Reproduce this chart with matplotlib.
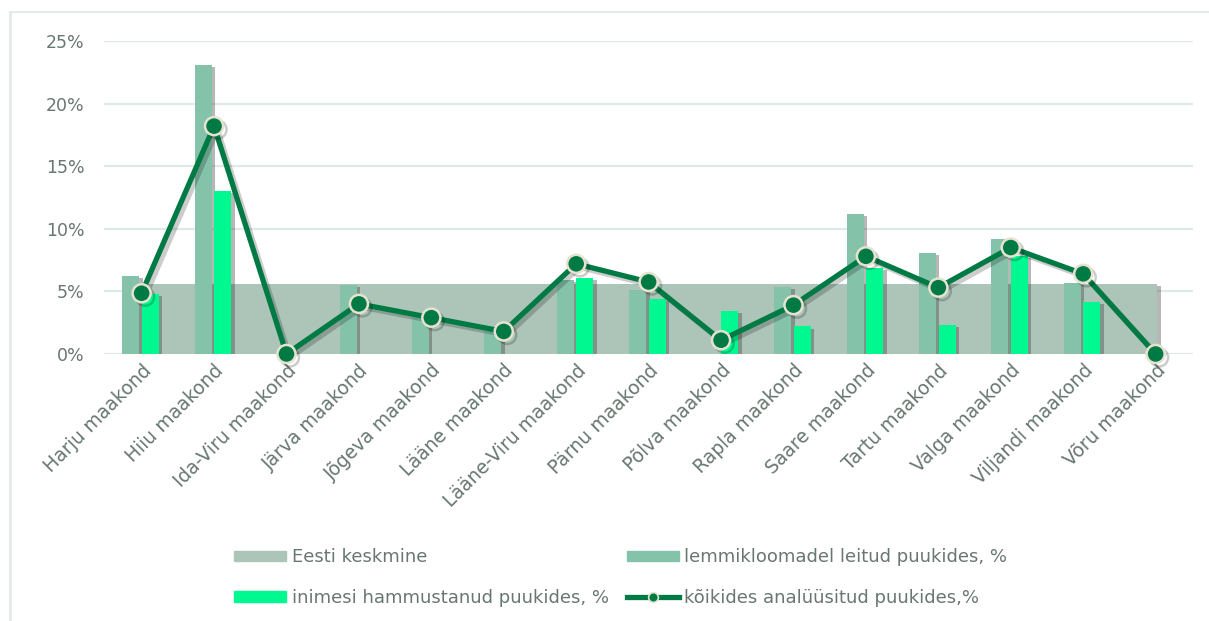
import matplotlib as mpl
mpl.use('Agg')
import matplotlib.pyplot as plt
import matplotlib.patheffects as pe
from matplotlib.lines import Line2D
import numpy as np

plt.rcParams['font.family'] = ['DejaVu Sans']

# Maakonnad ja puukide osakaalud (%)
maakonnad = ['Harju maakond', 'Hiiu maakond', 'Ida-Viru maakond', 'Järva maakond',
             'Jõgeva maakond', 'Lääne maakond', 'Lääne-Viru maakond', 'Pärnu maakond',
             'Põlva maakond', 'Rapla maakond', 'Saare maakond', 'Tartu maakond',
             'Valga maakond', 'Viljandi maakond', 'Võru maakond']
eesti_keskmine = [5.6] * 15
lemmikloomad = [6.2, 23.1, 0, 5.5, 3.0, 1.8, 5.9, 5.1, 0, 5.35, 11.2, 8.05, 9.2, 5.7, 0]
inimesed = [4.8, 13.0, 0, 0, 0, 0, 6.1, 4.4, 3.4, 2.2, 6.9, 2.3, 7.8, 4.15, 0]
koik = [4.85, 18.2, 0, 4.0, 2.9, 1.8, 7.2, 5.75, 1.1, 3.9, 7.8, 5.3, 8.5, 6.4, 0]
yticks = [0, 5, 10, 15, 20, 25]

c_band = '#adc5b8'
c_pet = '#84c2aa'
c_hum = '#00f890'
c_line = '#007a45'
c_text = '#68776f'
c_grid = '#dfe9e5'

fig = plt.figure(figsize=(12.09, 6.21), dpi=100)
ax = fig.add_axes([0.086, 0.43, 0.901, 0.504])
axb = ax.twiny()
ax.set_zorder(axb.get_zorder() + 1)
ax.patch.set_visible(False)

x = np.arange(len(maakonnad))
bar_shadow = [pe.SimplePatchShadow(offset=(2.5, -1.5), shadow_rgbFace='#333333', alpha=0.35), pe.Normal()]

# keskmise taust
for y in yticks:
    axb.axhline(y, color=c_grid, lw=1.6, zorder=0.5)
axb.bar(x, eesti_keskmine, width=1.0, color=c_band, linewidth=0, zorder=1)
axb.bar([x[-1]], [eesti_keskmine[-1]], width=1.0, color=c_band, linewidth=0, zorder=1,
        path_effects=bar_shadow)
axb.set_xlim(-0.76, 15.02)
axb.set_xticks([])
for s in axb.spines.values():
    s.set_visible(False)

bw = 0.235
ax.bar(x - 0.15, lemmikloomad, width=bw, color=c_pet, linewidth=0, zorder=2,
       path_effects=bar_shadow)
ax.bar(x + 0.12, inimesed, width=bw, color=c_hum, linewidth=0, zorder=2,
       path_effects=bar_shadow)
ax.plot(x, koik, color=c_line, lw=3.8, marker='o', markersize=13,
        markerfacecolor=c_line, markeredgecolor='#e6e2cf', markeredgewidth=1.8,
        zorder=3, clip_on=False,
        path_effects=[pe.SimpleLineShadow(offset=(2.5, -2.5), alpha=0.2), pe.Normal()])

ax.set_xlim(-0.52, 14.52)
ax.set_ylim(0, 25)
ax.set_yticks(yticks)
ax.set_yticklabels([f'{v}%' for v in yticks])
ax.set_xticks(x)
ax.set_xticklabels(maakonnad, rotation=45, ha='right', rotation_mode='anchor')
ax.tick_params(axis='y', length=0, labelsize=12.5, colors=c_text, pad=14)
ax.tick_params(axis='x', length=0, labelsize=13.5, colors=c_text, pad=5)
for s in ax.spines.values():
    s.set_visible(False)

# legend
band_handle = plt.Rectangle((0, 0), 1, 1, color=c_band)
pet_handle = plt.Rectangle((0, 0), 1, 1, color=c_pet)
hum_handle = plt.Rectangle((0, 0), 1, 1, color=c_hum)
line_handle = Line2D([], [], color=c_line, lw=3.8, marker='o', markersize=7,
                     markerfacecolor=c_line, markeredgecolor='#e6e2cf', markeredgewidth=1.2)
fig.legend([band_handle, hum_handle, pet_handle, line_handle],
           ['Eesti keskmine', 'inimesi hammustanud puukides, %',
            'lemmikloomadel leitud puukides, %', 'kõikides analüüsitud puukides,%'],
           ncol=2, loc='center left', bbox_to_anchor=(0.180, 0.070), frameon=False,
           fontsize=13, labelcolor=c_text, handlelength=2.9, handleheight=0.5,
           handletextpad=0.3, columnspacing=1.0, labelspacing=1.25)

# raam
fig.add_artist(Line2D([10 / 1209, 10 / 1209], [0, 1 - 12 / 621], color='#e2eae7', lw=2))
fig.add_artist(Line2D([10 / 1209, 0.999], [1 - 12 / 621, 1 - 12 / 621], color='#e2eae7', lw=1.4))

fig.savefig('out.png', dpi=100)
